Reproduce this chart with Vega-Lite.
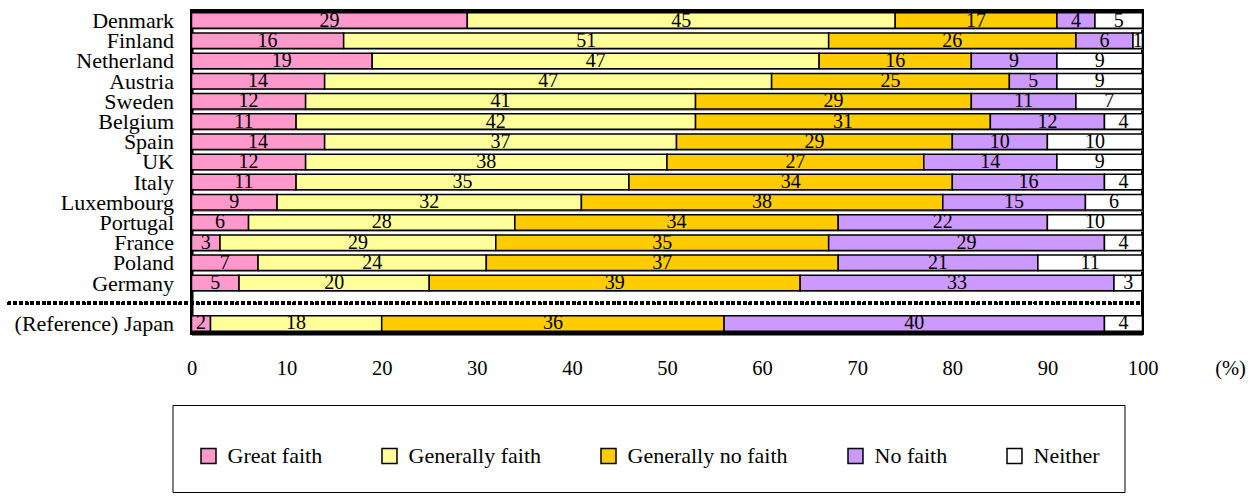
{
  "$schema": "https://vega.github.io/schema/vega-lite/v6.json",
  "width": 951,
  "height": 323,
  "autosize": "none",
  "padding": {"left": 191.5, "top": 10.5, "right": 112.5, "bottom": 170.5},
  "config": {
    "font": "Liberation Serif",
    "view": {"stroke": "#000000", "strokeWidth": 3},
    "axis": {"labelFont": "Liberation Serif", "titleFont": "Liberation Serif"},
    "legend": {"labelFont": "Liberation Serif", "titleFont": "Liberation Serif"},
    "text": {"font": "Liberation Serif"}
  },
  "data": {
    "values": [
      {"country": "Denmark", "cat": "Great faith", "k": 1, "v": 29},
      {"country": "Denmark", "cat": "Generally faith", "k": 2, "v": 45},
      {"country": "Denmark", "cat": "Generally no faith", "k": 3, "v": 17},
      {"country": "Denmark", "cat": "No faith", "k": 4, "v": 4},
      {"country": "Denmark", "cat": "Neither", "k": 5, "v": 5},
      {"country": "Finland", "cat": "Great faith", "k": 1, "v": 16},
      {"country": "Finland", "cat": "Generally faith", "k": 2, "v": 51},
      {"country": "Finland", "cat": "Generally no faith", "k": 3, "v": 26},
      {"country": "Finland", "cat": "No faith", "k": 4, "v": 6},
      {"country": "Finland", "cat": "Neither", "k": 5, "v": 1},
      {"country": "Netherland", "cat": "Great faith", "k": 1, "v": 19},
      {"country": "Netherland", "cat": "Generally faith", "k": 2, "v": 47},
      {"country": "Netherland", "cat": "Generally no faith", "k": 3, "v": 16},
      {"country": "Netherland", "cat": "No faith", "k": 4, "v": 9},
      {"country": "Netherland", "cat": "Neither", "k": 5, "v": 9},
      {"country": "Austria", "cat": "Great faith", "k": 1, "v": 14},
      {"country": "Austria", "cat": "Generally faith", "k": 2, "v": 47},
      {"country": "Austria", "cat": "Generally no faith", "k": 3, "v": 25},
      {"country": "Austria", "cat": "No faith", "k": 4, "v": 5},
      {"country": "Austria", "cat": "Neither", "k": 5, "v": 9},
      {"country": "Sweden", "cat": "Great faith", "k": 1, "v": 12},
      {"country": "Sweden", "cat": "Generally faith", "k": 2, "v": 41},
      {"country": "Sweden", "cat": "Generally no faith", "k": 3, "v": 29},
      {"country": "Sweden", "cat": "No faith", "k": 4, "v": 11},
      {"country": "Sweden", "cat": "Neither", "k": 5, "v": 7},
      {"country": "Belgium", "cat": "Great faith", "k": 1, "v": 11},
      {"country": "Belgium", "cat": "Generally faith", "k": 2, "v": 42},
      {"country": "Belgium", "cat": "Generally no faith", "k": 3, "v": 31},
      {"country": "Belgium", "cat": "No faith", "k": 4, "v": 12},
      {"country": "Belgium", "cat": "Neither", "k": 5, "v": 4},
      {"country": "Spain", "cat": "Great faith", "k": 1, "v": 14},
      {"country": "Spain", "cat": "Generally faith", "k": 2, "v": 37},
      {"country": "Spain", "cat": "Generally no faith", "k": 3, "v": 29},
      {"country": "Spain", "cat": "No faith", "k": 4, "v": 10},
      {"country": "Spain", "cat": "Neither", "k": 5, "v": 10},
      {"country": "UK", "cat": "Great faith", "k": 1, "v": 12},
      {"country": "UK", "cat": "Generally faith", "k": 2, "v": 38},
      {"country": "UK", "cat": "Generally no faith", "k": 3, "v": 27},
      {"country": "UK", "cat": "No faith", "k": 4, "v": 14},
      {"country": "UK", "cat": "Neither", "k": 5, "v": 9},
      {"country": "Italy", "cat": "Great faith", "k": 1, "v": 11},
      {"country": "Italy", "cat": "Generally faith", "k": 2, "v": 35},
      {"country": "Italy", "cat": "Generally no faith", "k": 3, "v": 34},
      {"country": "Italy", "cat": "No faith", "k": 4, "v": 16},
      {"country": "Italy", "cat": "Neither", "k": 5, "v": 4},
      {"country": "Luxembourg", "cat": "Great faith", "k": 1, "v": 9},
      {"country": "Luxembourg", "cat": "Generally faith", "k": 2, "v": 32},
      {"country": "Luxembourg", "cat": "Generally no faith", "k": 3, "v": 38},
      {"country": "Luxembourg", "cat": "No faith", "k": 4, "v": 15},
      {"country": "Luxembourg", "cat": "Neither", "k": 5, "v": 6},
      {"country": "Portugal", "cat": "Great faith", "k": 1, "v": 6},
      {"country": "Portugal", "cat": "Generally faith", "k": 2, "v": 28},
      {"country": "Portugal", "cat": "Generally no faith", "k": 3, "v": 34},
      {"country": "Portugal", "cat": "No faith", "k": 4, "v": 22},
      {"country": "Portugal", "cat": "Neither", "k": 5, "v": 10},
      {"country": "France", "cat": "Great faith", "k": 1, "v": 3},
      {"country": "France", "cat": "Generally faith", "k": 2, "v": 29},
      {"country": "France", "cat": "Generally no faith", "k": 3, "v": 35},
      {"country": "France", "cat": "No faith", "k": 4, "v": 29},
      {"country": "France", "cat": "Neither", "k": 5, "v": 4},
      {"country": "Poland", "cat": "Great faith", "k": 1, "v": 7},
      {"country": "Poland", "cat": "Generally faith", "k": 2, "v": 24},
      {"country": "Poland", "cat": "Generally no faith", "k": 3, "v": 37},
      {"country": "Poland", "cat": "No faith", "k": 4, "v": 21},
      {"country": "Poland", "cat": "Neither", "k": 5, "v": 11},
      {"country": "Germany", "cat": "Great faith", "k": 1, "v": 5},
      {"country": "Germany", "cat": "Generally faith", "k": 2, "v": 20},
      {"country": "Germany", "cat": "Generally no faith", "k": 3, "v": 39},
      {"country": "Germany", "cat": "No faith", "k": 4, "v": 33},
      {"country": "Germany", "cat": "Neither", "k": 5, "v": 3},
      {"country": "(Reference) Japan", "cat": "Great faith", "k": 1, "v": 2},
      {"country": "(Reference) Japan", "cat": "Generally faith", "k": 2, "v": 18},
      {"country": "(Reference) Japan", "cat": "Generally no faith", "k": 3, "v": 36},
      {"country": "(Reference) Japan", "cat": "No faith", "k": 4, "v": 40},
      {"country": "(Reference) Japan", "cat": "Neither", "k": 5, "v": 4}
    ]
  },
  "encoding": {
    "y": {
      "field": "country",
      "type": "nominal",
      "scale": {
        "domain": ["Denmark", "Finland", "Netherland", "Austria", "Sweden", "Belgium", "Spain", "UK", "Italy", "Luxembourg", "Portugal", "France", "Poland", "Germany", " ", "(Reference) Japan"],
        "paddingInner": 0.23,
        "paddingOuter": 0.115
      },
      "axis": {
        "title": null,
        "ticks": false,
        "labelFont": "Liberation Serif",
        "labelFontSize": 22,
        "labelColor": "#000000",
        "labelPadding": 18,
        "domain": true,
        "domainColor": "#000000",
        "domainWidth": 3,
        "grid": true,
        "tickBand": "extent",
        "gridColor": {
          "condition": {"test": "datum.value === ' ' || datum.value === '(Reference) Japan'", "value": "transparent"},
          "value": "#8c8c8c"
        },
        "gridWidth": 1.5
      }
    }
  },
  "layer": [
    {
      "mark": {"type": "bar", "stroke": "#000000", "strokeWidth": 1.5},
      "encoding": {
        "x": {
          "field": "v",
          "type": "quantitative",
          "stack": "zero",
          "scale": {"domain": [0, 100], "nice": false},
          "axis": {
            "values": [0, 10, 20, 30, 40, 50, 60, 70, 80, 90, 100],
            "grid": false,
            "domain": true,
            "domainColor": "#000000",
            "domainWidth": 3,
            "ticks": true,
            "tickColor": "#000000",
            "tickWidth": 1,
            "tickSize": -5,
            "labelFlush": false,
            "labelFont": "Liberation Serif",
            "labelFontSize": 20.5,
            "labelColor": "#000000",
            "labelBaseline": "middle",
            "labelPadding": 40,
            "title": "(%)",
            "titleFont": "Liberation Serif",
            "titleFontSize": 20.5,
            "titleFontWeight": "normal",
            "titleColor": "#000000",
            "titleX": 1038.5,
            "titleY": 35,
            "titleAlign": "center",
            "titleBaseline": "middle"
          }
        },
        "color": {
          "field": "cat",
          "type": "nominal",
          "scale": {
            "domain": ["Great faith", "Generally faith", "Generally no faith", "No faith", "Neither"],
            "range": ["#FF99CC", "#FFFF99", "#FFCC00", "#CC99FF", "#FFFFFF"]
          },
          "legend": {
            "orient": "none",
            "legendX": -19,
            "legendY": 394.5,
            "direction": "horizontal",
            "title": " ",
            "titleFontSize": 2,
            "titlePadding": 13,
            "padding": 25,
            "strokeColor": "#000000",
            "fillColor": "#FFFFFF",
            "symbolType": "square",
            "symbolSize": 225,
            "symbolStrokeColor": "#000000",
            "symbolStrokeWidth": 1.5,
            "labelFont": "Liberation Serif",
            "labelFontSize": 22,
            "labelColor": "#000000",
            "labelOffset": 8,
            "columnPadding": 56,
            "labelLimit": 400
          }
        },
        "order": {"field": "k", "type": "quantitative"}
      }
    },
    {
      "mark": {"type": "text", "font": "Liberation Serif", "fontSize": 20, "color": "#000000", "baseline": "middle", "align": "center"},
      "encoding": {
        "x": {"field": "v", "type": "quantitative", "stack": "zero", "bandPosition": 0.5},
        "detail": {"field": "cat", "type": "nominal"},
        "text": {"field": "v", "type": "quantitative"},
        "order": {"field": "k", "type": "quantitative"}
      }
    },
    {
      "mark": {"type": "rule", "color": "#000000", "strokeWidth": 3, "strokeDash": [3, 2.7]},
      "encoding": {
        "x": {"datum": -19.3, "type": "quantitative"},
        "x2": {"datum": 100},
        "y": {"datum": " ", "type": "nominal"}
      }
    }
  ]
}
